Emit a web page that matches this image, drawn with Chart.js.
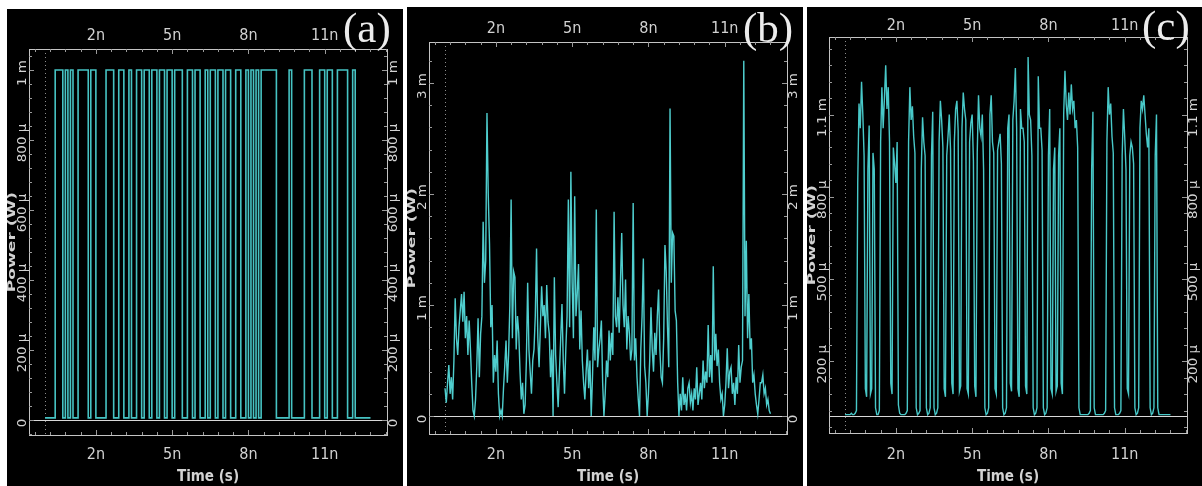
<!DOCTYPE html>
<html lang="en">
<head>
<meta charset="UTF-8" />
<title>Power traces (a) (b) (c)</title>
<script src="https://cdn.jsdelivr.net/npm/chart.js@4.4.1/dist/chart.umd.min.js"></script>
<style>
  html, body { margin: 0; padding: 0; background: #fff; }
  body { width: 1202px; height: 486px; position: relative; overflow: hidden; }
  .panel { position: absolute; background: #000; }
  .panel canvas { display: block; }
</style>
</head>
<body>
  <div class="panel" style="left:7px; top:9px; width:396px; height:477px;"><canvas id="chartA" width="396" height="477"></canvas></div>
  <div class="panel" style="left:407px; top:7px; width:396px; height:479px;"><canvas id="chartB" width="396" height="479"></canvas></div>
  <div class="panel" style="left:807px; top:7px; width:395px; height:479px;"><canvas id="chartC" width="395" height="479"></canvas></div>

<script>
// time axis (ns), same for the three panels
const timeTicks = [2, 5, 8, 11];
const timeTickLabels = ['2n', '5n', '8n', '11n'];
const BIT_NS = 0.1;    // 128 bits over 12.8 ns
const STEP_NS = 0.05;  // sample spacing of traces (b) and (c)

// (a) transmitted bit pattern, power in mW
const aBits = [
  0,0,0,0,0,1,1,1,0,1,0,1,0,0,1,1,
  1,1,0,1,1,0,0,0,0,1,1,1,0,0,1,1,
  0,0,1,0,0,1,1,0,1,1,0,1,1,0,1,1,
  0,1,1,0,1,1,1,0,0,1,1,0,1,1,0,0,
  1,0,1,1,0,1,1,0,1,1,0,0,1,1,0,0,
  1,0,1,0,1,0,1,1,1,1,1,1,0,0,0,0,
  0,1,0,0,0,0,0,1,1,1,0,0,0,1,1,0,
  1,1,0,0,1,1,1,1,0,0,1,0,0,0,0,0
];
const aHighMw = 1.0;
const aLowMw = 0.006;
const aTicks = [0, 0.2, 0.4, 0.6, 0.8, 1.0];
const aTickLabels = ['0', '200 μ', '400 μ', '600 μ', '800 μ', '1 m'];

// (b) received power in mW, one value every 0.05 ns from 0 to 12.8 ns
const bPower = [
  0.25, 0.12, 0.3, 0.46, 0.2, 0.35, 0.15, 0.5, 1.06, 0.7,
  0.55, 0.8, 0.95, 1.1, 0.85, 1.12, 0.7, 0.9, 0.55, 0.86,
  0.6, 0.3, 0.05, 0.0, 0.15, 0.45, 0.88, 0.35, 0.74, 0.9,
  1.75, 1.2, 1.4, 2.73, 2.0, 1.55, 0.8, 1.0, 0.3, 0.55,
  0.4, 0.68, 0.2, 0.0, 0.05, 0.0, 0.25, 0.45, 0.68, 0.3,
  0.55, 1.0, 1.95, 0.7, 1.3, 1.25, 0.6, 0.9, 0.75, 0.4,
  0.15, 0.3, 0.02, 0.1, 0.5, 1.2, 0.6, 0.4, 0.2, 0.5,
  0.6, 0.9, 1.51, 0.7, 0.44, 0.8, 1.17, 0.9, 1.0, 0.7,
  1.18, 0.85, 0.74, 0.35, 0.6, 0.0, 1.25, 0.55, 0.3, 0.08,
  0.4, 0.7, 1.01, 0.5, 0.2, 0.6, 0.9, 1.95, 0.8, 2.2,
  1.2, 0.7, 1.98, 0.9, 1.1, 1.37, 0.6, 0.95, 0.5, 0.3,
  0.15, 0.4, 0.6, 0.25, 0.5, 0.0, 0.35, 0.8, 0.5, 1.86,
  0.44, 0.6, 0.7, 0.86, 0.3, 0.0, 0.2, 0.5, 0.35, 0.77,
  0.5, 0.75, 0.55, 1.84, 0.9, 0.8, 1.07, 0.75, 1.2, 1.65,
  1.0, 0.8, 1.23, 0.6, 0.9, 0.75, 0.5, 0.6, 1.92, 0.5,
  0.7, 0.35, 0.15, 0.0, 0.6, 0.9, 1.42, 0.45, 0.3, 0.0,
  0.2, 0.5, 0.98, 0.6, 0.4, 0.75, 0.55, 0.9, 1.14, 0.6,
  0.35, 0.3, 0.7, 1.54, 1.3, 0.8, 0.44, 2.77, 1.2, 1.65,
  1.62, 0.95, 0.86, 0.3, 0.0, 0.2, 0.05, 0.35, 0.1, 0.2,
  0.05, 0.25, 0.3, 0.12, 0.2, 0.05, 0.25, 0.15, 0.44, 0.1,
  0.2, 0.3, 0.15, 0.5, 0.25, 0.4, 0.3, 0.82, 0.35, 0.55,
  0.3, 1.35, 0.5, 0.74, 0.45, 0.6, 0.3, 0.15, 0.2, 0.0,
  0.1, 0.3, 0.61, 0.25, 0.4, 0.44, 0.2, 0.3, 0.1, 0.35,
  0.2, 0.64, 0.3, 0.44, 0.5, 3.2, 0.9, 1.58, 0.7, 1.1,
  0.6, 0.7, 0.3, 0.37, 0.2, 0.1, 0.02, 0.15, 0.3, 0.3,
  0.37, 0.2, 0.25, 0.1, 0.15, 0.05, 0.02
];
const bTicks = [0, 1, 2, 3];
const bTickLabels = ['0', '1 m', '2 m', '3 m'];

// (c) recovered power in mW, two samples per bit (0.05 ns apart) + end point
const cPower = [
  0.005,0.005, 0.005,0.005, 0.005,0.01, 0.005,0.005, 0.01,0.02, 0.85,1.14, 1.05,1.22, 1.1,0.95,
  0.1,0.07, 0.9,1.06, 0.08,0.1, 0.96,0.9, 0.03,0.005, 0.005,0.02, 1.0,1.2, 1.05,1.16,
  1.28,1.12, 1.2,1.0, 0.12,0.08, 0.98,0.92, 0.85,1.0, 0.04,0.01, 0.005,0.005, 0.005,0.005,
  0.01,0.02, 1.0,1.2, 1.08,1.13, 1.02,0.96, 0.03,0.005, 0.01,0.02, 0.9,1.09, 1.0,0.95,
  0.03,0.005, 0.01,0.03, 0.95,1.11, 0.03,0.005, 0.01,0.03, 1.0,1.15, 1.08,0.98, 0.1,0.07,
  0.95,1.02, 1.1,0.97, 0.12,0.08, 1.0,1.12, 1.15,1.04, 0.09,0.11, 1.05,1.18, 1.12,1.08,
  0.1,0.08, 1.0,1.07, 1.1,0.93, 0.11,0.07, 0.96,1.17, 1.05,1.02, 1.1,0.9, 0.03,0.005,
  0.01,0.03, 1.1,1.17, 1.0,0.96, 0.1,0.08, 0.97,1.0, 1.03,0.92, 0.03,0.005, 0.01,0.03,
  1.05,1.1, 0.12,0.09, 1.08,1.15, 1.27,1.05, 0.1,0.07, 1.12,1.05, 1.05,1.0, 0.11,0.08,
  1.31,1.1, 1.08,0.95, 0.03,0.005, 0.01,0.03, 1.24,1.05, 1.05,0.97, 0.03,0.005, 0.01,0.03,
  0.95,1.12, 0.1,0.08, 0.9,0.98, 0.09,0.11, 0.95,1.05, 0.12,0.08, 1.1,1.26, 1.14,1.08,
  1.18,1.1, 1.21,1.12, 1.15,1.05, 1.08,0.98, 0.03,0.005, 0.005,0.005, 0.005,0.005, 0.005,0.005,
  0.01,0.02, 0.9,1.11, 0.03,0.005, 0.005,0.005, 0.005,0.005, 0.005,0.005, 0.01,0.02, 1.0,1.2,
  1.1,1.14, 1.02,0.96, 0.03,0.005, 0.005,0.005, 0.01,0.02, 0.95,1.12, 1.02,0.9, 0.1,0.08,
  0.95,1.0, 0.98,0.92, 0.03,0.005, 0.01,0.03, 1.05,1.15, 1.12,1.17, 1.1,1.03, 0.98,1.05,
  0.03,0.005, 0.01,0.03, 0.95,1.1, 0.03,0.005, 0.005,0.005, 0.005,0.005, 0.005,0.005, 0.005,0.005,
  0.005
];
const cTicks = [0.2, 0.5, 0.8, 1.1];
const cTickLabels = ['200 μ', '500 μ', '800 μ', '1.1 m'];

const TEXT = '#d2d2d2';
const FRAME = '#c4c4c4';
const NARROW = '"Liberation Sans Narrow", "DejaVu Sans Condensed", "Liberation Sans", sans-serif';
const T_MIN = -0.63, T_MAX = 13.45;

function bitPoints(bits, hi, lo) {
  const pts = bits.map((b, k) => ({ x: k * BIT_NS, y: b ? hi : lo }));
  pts.push({ x: bits.length * BIT_NS, y: pts[pts.length - 1].y });
  return pts;
}
function samplePoints(vals) {
  return vals.map((v, i) => ({ x: i * STEP_NS, y: v }));
}

// frame, inner ticks, zero line, rotated power labels, panel tag
const scopeDecor = {
  id: 'scopeDecor',
  beforeDatasetsDraw(chart, args, o) {
    const { ctx, chartArea: a, scales } = chart;
    ctx.save();
    ctx.lineWidth = 1;
    ctx.strokeStyle = '#8c8c8c';
    ctx.setLineDash([1, 3]);
    const x0 = Math.round(scales.x.getPixelForValue(0)) + 0.5;
    ctx.beginPath(); ctx.moveTo(x0, a.top); ctx.lineTo(x0, a.bottom); ctx.stroke();
    ctx.setLineDash([]);
    ctx.strokeStyle = '#d8d8d8';
    const y0 = Math.round(scales.y.getPixelForValue(0)) + 0.5;
    ctx.beginPath(); ctx.moveTo(a.left, y0); ctx.lineTo(a.right, y0); ctx.stroke();
    ctx.restore();
  },
  afterDraw(chart, args, o) {
    const { ctx, chartArea: a, scales } = chart;
    const xs = scales.x, ys = scales.y;
    ctx.save();
    ctx.strokeStyle = FRAME;
    ctx.lineWidth = 1;
    ctx.strokeRect(Math.round(a.left) + 0.5, Math.round(a.top) + 0.5,
      Math.round(a.right - a.left), Math.round(a.bottom - a.top));

    // time ticks, pointing inwards
    ctx.strokeStyle = '#9a9a9a';
    ctx.beginPath();
    for (let k = -5; k <= 20; k++) {
      const t = 2 + 0.6 * k;
      if (t <= T_MIN || t >= T_MAX) continue;
      const major = timeTicks.some(v => Math.abs(v - t) < 1e-6);
      const len = major ? 5 : 3;
      const px = Math.round(xs.getPixelForValue(t)) + 0.5;
      ctx.moveTo(px, a.top); ctx.lineTo(px, a.top + len);
      ctx.moveTo(px, a.bottom); ctx.lineTo(px, a.bottom - len);
    }
    // power ticks
    for (let k = -30; k <= 60; k++) {
      const v = o.minorFrom + o.minorStep * k;
      if (v <= ys.min || v >= ys.max) continue;
      const major = o.ticks.some(m => Math.abs(m - v) < 1e-6);
      const len = major ? 5 : 3;
      const py = Math.round(ys.getPixelForValue(v)) + 0.5;
      ctx.moveTo(a.left, py); ctx.lineTo(a.left + len, py);
      ctx.moveTo(a.right, py); ctx.lineTo(a.right - len, py);
    }
    ctx.stroke();

    // rotated power labels on both sides
    ctx.fillStyle = TEXT;
    ctx.font = '12px "DejaVu Sans", sans-serif';
    ctx.textAlign = 'center';
    ctx.textBaseline = 'middle';
    o.ticks.forEach((v, i) => {
      const py = ys.getPixelForValue(v) + 3;
      [a.left - 6, a.right + 7].forEach(px => {
        ctx.save();
        ctx.translate(px, py);
        ctx.rotate(-Math.PI / 2);
        ctx.scale(1.12, 1);
        ctx.fillText(o.labels[i], 0, 0);
        ctx.restore();
      });
    });

    // axis title
    ctx.save();
    ctx.translate(5, (a.top + a.bottom) / 2);
    ctx.rotate(-Math.PI / 2);
    ctx.scale(1.55, 1);
    ctx.font = 'bold 11px "DejaVu Sans", sans-serif';
    ctx.fillText('Power (W)', 0, 0);
    ctx.restore();

    // panel tag
    ctx.font = '43px "Liberation Serif", "DejaVu Serif", serif';
    ctx.textAlign = 'left';
    ctx.textBaseline = 'alphabetic';
    ctx.fillStyle = '#ececec';
    ctx.fillText(o.tag, o.tagX, o.tagY);
    ctx.restore();
  }
};

function makeScope(id, p) {
  const canvas = document.getElementById(id);
  const W = canvas.width, H = canvas.height;
  const timeAxis = (pos, size, pad, withTitle) => ({
    type: 'linear', position: pos, min: T_MIN, max: T_MAX,
    afterFit: s => { s.height = size; },
    afterBuildTicks: s => { s.ticks = timeTicks.map(v => ({ value: v })); },
    grid: { display: false, drawTicks: false },
    border: { display: false },
    ticks: {
      color: TEXT, padding: pad, maxRotation: 0, autoSkip: false,
      font: { family: NARROW, size: 16 },
      callback: (v, i) => timeTickLabels[i]
    },
    title: {
      display: withTitle, text: 'Time (s)', color: TEXT, padding: 0,
      font: { family: NARROW, size: 15, weight: 'bold' }
    }
  });
  const powerAxis = (pos, size) => ({
    type: 'linear', position: pos, min: p.yMin, max: p.yMax,
    afterFit: s => { s.width = size; },
    ticks: { display: false },
    grid: { display: false, drawTicks: false },
    border: { display: false }
  });

  return new Chart(canvas, {
    type: 'line',
    data: {
      datasets: [{
        data: p.points,
        borderColor: p.color,
        borderWidth: p.width,
        pointRadius: 0,
        tension: 0,
        stepped: p.stepped || false,
        fill: false
      }]
    },
    options: {
      responsive: false,
      animation: false,
      devicePixelRatio: 1,
      layout: { padding: 0 },
      plugins: {
        legend: { display: false },
        tooltip: { enabled: false },
        scopeDecor: p.decor
      },
      scales: {
        x: timeAxis('bottom', H - p.frame.bottom, p.padBottom, true),
        x2: timeAxis('top', p.frame.top, p.padTop, false),
        y: powerAxis('left', p.frame.left),
        y2: powerAxis('right', W - p.frame.right)
      }
    },
    plugins: [scopeDecor]
  });
}

makeScope('chartA', {
  points: bitPoints(aBits, aHighMw, aLowMw),
  stepped: 'after', color: '#46c3c3', width: 1.6,
  yMin: -0.043, yMax: 1.06,
  frame: { left: 22, right: 380, top: 40, bottom: 426 },
  padTop: 4, padBottom: 10,
  decor: { ticks: aTicks, labels: aTickLabels, minorFrom: 0, minorStep: 0.04, tag: '(a)', tagX: 336, tagY: 33 }
});

makeScope('chartB', {
  points: samplePoints(bPower),
  color: '#4fcece', width: 1.4,
  yMin: -0.162, yMax: 3.37,
  frame: { left: 22, right: 380, top: 35, bottom: 427 },
  padTop: 4, padBottom: 11,
  decor: { ticks: bTicks, labels: bTickLabels, minorFrom: 0, minorStep: 0.2, tag: '(b)', tagX: 336, tagY: 35 }
});

makeScope('chartC', {
  points: samplePoints(cPower),
  color: '#48c8c8', width: 1.4,
  yMin: -0.062, yMax: 1.383,
  frame: { left: 22, right: 380, top: 30, bottom: 426 },
  padTop: 2, padBottom: 12,
  decor: { ticks: cTicks, labels: cTickLabels, minorFrom: 0.2, minorStep: 0.06, tag: '(c)', tagX: 335, tagY: 33 }
});
</script>
</body>
</html>
